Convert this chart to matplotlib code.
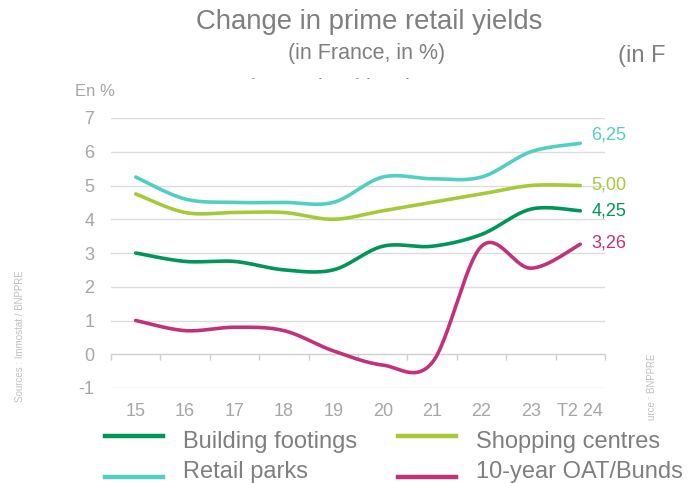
import matplotlib
matplotlib.use("Agg")
import matplotlib.pyplot as plt
from matplotlib.lines import Line2D
import numpy as np

# Donnees
categories = ['15', '16', '17', '18', '19', '20', '21', '22', '23', 'T2 24']
building_footings = [3.0, 2.75, 2.75, 2.5, 2.5, 3.2, 3.2, 3.55, 4.3, 4.25]
retail_parks = [5.25, 4.6, 4.5, 4.5, 4.5, 5.25, 5.2, 5.25, 6.0, 6.25]
shopping_centres = [4.75, 4.2, 4.2, 4.2, 4.0, 4.25, 4.5, 4.75, 5.0, 5.0]
oat_bunds = [1.0, 0.7, 0.8, 0.7, 0.1, -0.32, -0.25, 3.2, 2.55, 3.26]
end_labels = ['4,25', '6,25', '5,00', '3,26']
yticks = [-1, 0, 1, 2, 3, 4, 5, 6, 7]

plt.rcParams['font.family'] = ['Liberation Sans', 'DejaVu Sans']
plt.rcParams['axes.unicode_minus'] = False

c_build = '#00965a'
c_park = '#52cfc3'
c_shop = '#a6c93a'
c_oat = '#c3317b'
grey = '#7f7f7f'
light = '#a6a6a6'


def smooth(ys, n=30):
    # courbe lissee facon Excel (Catmull-Rom / Bezier)
    xs = np.arange(len(ys), dtype=float)
    p = np.column_stack([xs, ys])
    p = np.vstack([p[0], p, p[-1]])
    out = []
    for i in range(1, len(p) - 2):
        p0, p1, p2, p3 = p[i - 1], p[i], p[i + 1], p[i + 2]
        c1 = p1 + (p2 - p0) / 6
        c2 = p2 - (p3 - p1) / 6
        t = np.linspace(0, 1, n)[:, None]
        seg = ((1 - t) ** 3) * p1 + 3 * ((1 - t) ** 2) * t * c1 + 3 * (1 - t) * t ** 2 * c2 + t ** 3 * p2
        out.append(seg if i == 1 else seg[1:])
    out = np.vstack(out)
    return out[:, 0], out[:, 1]


fig = plt.figure(figsize=(6.88, 4.83), dpi=100)
ax = fig.add_axes([111 / 688, 1 - 388 / 483, 494 / 688, 270 / 483])

series = [(building_footings, c_build, 'Building footings'),
          (retail_parks, c_park, 'Retail parks'),
          (shopping_centres, c_shop, 'Shopping centres'),
          (oat_bunds, c_oat, '10-year OAT/Bunds')]
for ys, col, lab in series:
    sx, sy = smooth(ys)
    ax.plot(sx, sy, color=col, lw=2.6, solid_capstyle='round', label=lab, zorder=3)

# etiquettes en bout de courbe
label_offsets = [0, 0.25, 0, 0.05]
for (ys, col, lab), txt, dy in zip(series, end_labels, label_offsets):
    ax.text(len(ys) - 1 + 0.22, ys[-1] + dy, txt, color=col, fontsize=13,
            va='center', ha='left')

ax.set_xlim(-0.5, len(categories) - 0.5)
ax.set_ylim(-1, 7)
ax.set_yticks(yticks)
ax.grid(axis='y', color='#dcdcdc', lw=1.0)
ax.set_axisbelow(True)
for s in ['top', 'right', 'left']:
    ax.spines[s].set_visible(False)
ax.spines['bottom'].set_position(('data', 0))
ax.spines['bottom'].set_color('#cfcfcf')
ax.set_xticks(np.arange(len(categories)))
ax.set_xticklabels(categories)
ax.set_xticks(np.arange(len(categories) + 1) - 0.5, minor=True)
ax.tick_params(axis='x', which='major', length=0, pad=35, labelsize=13, labelcolor=light)
ax.tick_params(axis='x', which='minor', length=4, color='#cfcfcf', width=1)
ax.tick_params(axis='y', length=0, pad=12, labelsize=13, labelcolor=light)

fig.text(75 / 688, 1 - 92 / 483, 'En %', fontsize=12, color=light, va='center', ha='left')

# titres
fig.text(369 / 688, 1 - 22 / 483, 'Change in prime retail yields', fontsize=19.8,
         color=grey, ha='center', va='center')
fig.text(367 / 688, 1 - 53 / 483, '(in France, in %)', fontsize=15.5,
         color=grey, ha='center', va='center')
fig.text(618 / 688, 1 - 56 / 483, '(in F', fontsize=17,
         color=grey, ha='left', va='center')

# petits traits residuels sous le sous-titre
for xd in [253, 320, 357, 368, 407]:
    fig.text(xd / 688, 1 - 79 / 483, '-', fontsize=6, color='#333333',
             ha='center', va='center')

# sources (verticales)
fig.text(20 / 688, 1 - 336 / 483, 'Sources : Immostat / BNPPRE', fontsize=7,
         color='#c0c0c0', rotation=90, ha='center', va='center')
fig.text(652 / 688, 1 - 420 / 483, 'urce : BNPPRE', fontsize=7,
         color='#c0c0c0', rotation=90, ha='center', va='bottom')

# legende dessinee a la main (traits decales du texte comme sur l'original)
legend_items = [(c_build, 'Building footings', 105, 436, 442),
                (c_park, 'Retail parks', 105, 477, 472),
                (c_shop, 'Shopping centres', 398, 436, 442),
                (c_oat, '10-year OAT/Bunds', 398, 477, 472)]
for col, lab, x0, yl, yt in legend_items:
    fig.add_artist(Line2D([x0 / 688, (x0 + 58) / 688], [1 - yl / 483, 1 - yl / 483],
                          color=col, lw=3.2, transform=fig.transFigure))
    fig.text((x0 + 78) / 688, 1 - yt / 483, lab, fontsize=17, color=grey,
             ha='left', va='center')

fig.savefig('out.png', dpi=100)
